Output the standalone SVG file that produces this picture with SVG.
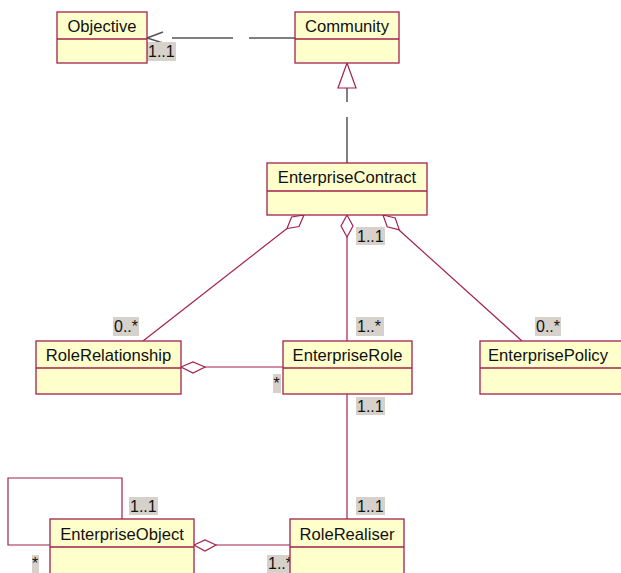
<svg xmlns="http://www.w3.org/2000/svg" width="621" height="573" viewBox="0 0 621 573">
<style>
.box{fill:#ffffcc;stroke:#a3214f;stroke-width:1.3}
.div{stroke:#a3214f;stroke-width:1.3}
.t{font-family:"Liberation Sans",Arial,sans-serif;font-size:16.6px;fill:#111111;text-anchor:middle}
.lbl{font-family:"Liberation Sans",Arial,sans-serif;font-size:16px;fill:#111111}
.lb{fill:#d6d1ca}
.c{stroke:#a3214f;stroke-width:1.2;fill:none}
.dia{stroke:#a3214f;stroke-width:1.2;fill:#ffffff}
.dep{stroke:#555555;stroke-width:1.5;fill:none}
</style>
<rect width="621" height="573" fill="#ffffff"/>
<g id="connectors">
  <line class="dep" x1="295" y1="38" x2="249" y2="38"/>
  <line class="dep" x1="233" y1="38" x2="172" y2="38"/>
  <polyline class="dep" points="163,32 147,38 163,43" stroke="#222222"/>
  <line class="dep" x1="347" y1="163" x2="347" y2="117"/>
  <line class="dep" x1="347" y1="102" x2="347" y2="88"/>
  <polygon points="347,63 338,88 356,88" fill="#ffffff" stroke="#a3214f" stroke-width="1.2"/>
  <line class="c" x1="287" y1="228.5" x2="143" y2="341"/>
  <polygon class="dia" points="304,215 299,226.5 287,228.5 291.6,217"/>
  <line class="c" x1="347" y1="237" x2="347" y2="341"/>
  <polygon class="dia" points="347,215 353,226 347,237 341,226"/>
  <line class="c" x1="399" y1="230" x2="522" y2="341"/>
  <polygon class="dia" points="383,215 395.2,218 399.3,229.8 387.2,226.8"/>
  <line class="c" x1="205" y1="367" x2="283" y2="367"/>
  <polygon class="dia" points="181,367 193,362 205,367 193,373"/>
  <line class="c" x1="347" y1="394" x2="347" y2="519"/>
  <line class="c" x1="216" y1="545" x2="290" y2="545"/>
  <polygon class="dia" points="194,545 205,540 216,545 205,551"/>
  <polyline class="c" points="50,545 8,545 8,478 122,478 122,519"/>
</g>
<g id="labels">
  <rect class="lb" x="147" y="42" width="29" height="19"/><text class="lbl" x="148" y="57">1..1</text>
  <rect class="lb" x="356" y="227" width="29" height="18"/><text class="lbl" x="357" y="242">1..1</text>
  <rect class="lb" x="113" y="317" width="26" height="19"/><text class="lbl" x="114" y="332">0..*</text>
  <rect class="lb" x="356" y="317" width="28" height="19"/><text class="lbl" x="357" y="332">1..*</text>
  <rect class="lb" x="535" y="317" width="26" height="19"/><text class="lbl" x="536" y="332">0..*</text>
  <rect class="lb" x="273" y="374" width="8" height="19"/><text class="lbl" x="273.5" y="389">*</text>
  <rect class="lb" x="356" y="397" width="29" height="18"/><text class="lbl" x="357" y="412">1..1</text>
  <rect class="lb" x="129" y="497" width="29" height="18"/><text class="lbl" x="130" y="512">1..1</text>
  <rect class="lb" x="356" y="497" width="29" height="18"/><text class="lbl" x="357" y="512">1..1</text>
  <rect class="lb" x="32" y="555" width="7" height="18"/><text class="lbl" x="32" y="569">*</text>
  <rect class="lb" x="267" y="555" width="26" height="18"/><text class="lbl" x="268" y="569">1..*</text>
</g>
<g id="Objective">
  <rect class="box" x="57" y="12" width="90" height="51"/>
  <line class="div" x1="57" y1="39" x2="147" y2="39"/>
  <text class="t" x="102" y="32">Objective</text>
</g>
<g id="Community">
  <rect class="box" x="295" y="12" width="104" height="51"/>
  <line class="div" x1="295" y1="39" x2="399" y2="39"/>
  <text class="t" x="347" y="32">Community</text>
</g>
<g id="EnterpriseContract">
  <rect class="box" x="267" y="163" width="160" height="52"/>
  <line class="div" x1="267" y1="191" x2="427" y2="191"/>
  <text class="t" x="347" y="183">EnterpriseContract</text>
</g>
<g id="RoleRelationship">
  <rect class="box" x="36" y="341" width="145" height="53"/>
  <line class="div" x1="36" y1="368" x2="181" y2="368"/>
  <text class="t" x="108.5" y="361">RoleRelationship</text>
</g>
<g id="EnterpriseRole">
  <rect class="box" x="283" y="341" width="129" height="53"/>
  <line class="div" x1="283" y1="368" x2="412" y2="368"/>
  <text class="t" x="347.5" y="361">EnterpriseRole</text>
</g>
<g id="EnterprisePolicy">
  <rect class="box" x="480" y="341" width="150" height="53"/>
  <line class="div" x1="480" y1="368" x2="630" y2="368"/>
  <text class="t" x="548" y="361">EnterprisePolicy</text>
</g>
<g id="EnterpriseObject">
  <rect class="box" x="50" y="519" width="144" height="60"/>
  <line class="div" x1="50" y1="547" x2="194" y2="547"/>
  <text class="t" x="122" y="540">EnterpriseObject</text>
</g>
<g id="RoleRealiser">
  <rect class="box" x="290" y="519" width="114" height="60"/>
  <line class="div" x1="290" y1="547" x2="404" y2="547"/>
  <text class="t" x="347" y="540">RoleRealiser</text>
</g>
</svg>
